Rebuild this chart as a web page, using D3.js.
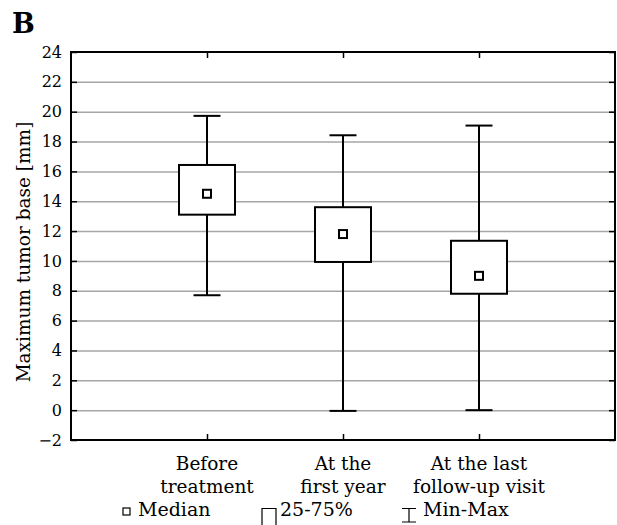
<!DOCTYPE html>
<html>
<head>
<meta charset="utf-8">
<script src="https://cdn.jsdelivr.net/npm/d3@7"></script>
<style>
  html, body { margin: 0; padding: 0; background: #fff; }
  svg { display: block; }
  text { font-family: "DejaVu Serif", serif; fill: #000; }
</style>
</head>
<body>
<svg id="chart" width="617" height="525"></svg>
<script>
// ---- data ----
const categories = ["Before treatment", "At the first year", "At the last follow-up visit"];
const categoryLines = [["Before", "treatment"], ["At the", "first year"], ["At the last", "follow-up visit"]];
const minValues = [7.7, -0.05, 0.0];
const q1Values = [13.1, 9.93, 7.8];
const medianValues = [14.5, 11.8, 9.0];
const q3Values = [16.43, 13.6, 11.35];
const maxValues = [19.72, 18.42, 19.07];
const yTicks = [-2, 0, 2, 4, 6, 8, 10, 12, 14, 16, 18, 20, 22, 24];
const gridTicks = [0, 2, 4, 6, 8, 10, 12, 14, 16, 18, 20, 22];
const yLabel = "Maximum tumor base [mm]";
const panelLabel = "B";
const legendLabels = ["Median", "25-75%", "Min-Max"];

// ---- layout ----
const svg = d3.select("#chart");
const pL = 71, pR = 615, pT = 52, pB = 440;
const boxW = 56, capW = 27, medSize = 8;

const x = d3.scalePoint().domain(categories).range([pL, pR]).padding(1);
const y = d3.scaleLinear().domain([-2, 24]).range([pB, pT]);

// gridlines
const grid = svg.append("g").attr("transform", `translate(${pL},0)`)
  .call(d3.axisLeft(y).tickValues(gridTicks).tickSize(-(pR - pL)).tickFormat(""));
grid.select(".domain").remove();
grid.selectAll(".tick line").attr("stroke", "#a6a6a6").attr("stroke-width", 1.5);

// left axis
const ax = svg.append("g").attr("transform", `translate(${pL},0)`)
  .call(d3.axisLeft(y).tickValues(yTicks).tickSize(-6).tickPadding(9)
    .tickFormat(d => d < 0 ? "\u2212" + Math.abs(d) : d));
ax.select(".domain").remove();
ax.selectAll(".tick line").attr("stroke", "#000").attr("stroke-width", 1.5);
ax.selectAll(".tick text").attr("font-family", "DejaVu Serif").attr("font-size", 16).attr("fill", "#000");

// right axis
const axR = svg.append("g").attr("transform", `translate(${pR},0)`)
  .call(d3.axisRight(y).tickValues(yTicks).tickSize(-6).tickFormat(""));
axR.select(".domain").remove();
axR.selectAll(".tick line").attr("stroke", "#000").attr("stroke-width", 1.5);

// top axis
const axT = svg.append("g").attr("transform", `translate(0,${pT})`)
  .call(d3.axisTop(x).tickSize(-6).tickFormat(""));
axT.select(".domain").remove();
axT.selectAll(".tick line").attr("stroke", "#000").attr("stroke-width", 1.5);

// bottom axis
const axB = svg.append("g").attr("transform", `translate(0,${pB})`)
  .call(d3.axisBottom(x).tickSize(-6).tickFormat(""));
axB.select(".domain").remove();
axB.selectAll(".tick line").attr("stroke", "#000").attr("stroke-width", 1.5);

// frame
svg.append("rect").attr("x", pL).attr("y", pT)
  .attr("width", pR - pL).attr("height", pB - pT)
  .attr("fill", "none").attr("stroke", "#000").attr("stroke-width", 2);

// boxes
const data = categories.map((c, i) => ({
  c, min: minValues[i], q1: q1Values[i], med: medianValues[i], q3: q3Values[i], max: maxValues[i]
}));
const g = svg.append("g");
const b = g.selectAll("g.box").data(data).join("g").attr("class", "box");
b.append("line").attr("x1", d => x(d.c)).attr("x2", d => x(d.c))
  .attr("y1", d => y(d.max)).attr("y2", d => y(d.min))
  .attr("stroke", "#000").attr("stroke-width", 2);
b.append("line").attr("x1", d => x(d.c) - capW / 2).attr("x2", d => x(d.c) + capW / 2)
  .attr("y1", d => y(d.max)).attr("y2", d => y(d.max))
  .attr("stroke", "#000").attr("stroke-width", 2);
b.append("line").attr("x1", d => x(d.c) - capW / 2).attr("x2", d => x(d.c) + capW / 2)
  .attr("y1", d => y(d.min)).attr("y2", d => y(d.min))
  .attr("stroke", "#000").attr("stroke-width", 2);
b.append("rect").attr("x", d => x(d.c) - boxW / 2).attr("y", d => y(d.q3))
  .attr("width", boxW).attr("height", d => y(d.q1) - y(d.q3))
  .attr("fill", "#fff").attr("stroke", "#000").attr("stroke-width", 2);
b.append("rect").attr("x", d => x(d.c) - medSize / 2).attr("y", d => y(d.med) - medSize / 2)
  .attr("width", medSize).attr("height", medSize)
  .attr("fill", "#fff").attr("stroke", "#000").attr("stroke-width", 2);

// category labels
categories.forEach((c, i) => {
  const t = svg.append("text").attr("text-anchor", "middle").attr("font-size", 18.5);
  categoryLines[i].forEach((ln, j) => {
    t.append("tspan").attr("x", x(c)).attr("y", 469.5 + j * 23).text(ln);
  });
});

// y label
svg.append("text").attr("transform", `translate(30,${(pT + pB) / 2 + 6}) rotate(-90)`)
  .attr("text-anchor", "middle").attr("font-size", 18.5).text(yLabel);

// panel label
svg.append("text").attr("x", 12).attr("y", 33).attr("font-size", 27)
  .attr("font-weight", "bold").text(panelLabel);

// legend
const ly = 516;
svg.append("rect").attr("x", 123).attr("y", 508).attr("width", 7).attr("height", 7)
  .attr("fill", "#fff").attr("stroke", "#000").attr("stroke-width", 1.2);
svg.append("text").attr("x", 138).attr("y", ly).attr("font-size", 19).text(legendLabels[0]);
svg.append("path").attr("d", "M262,526 V508.5 H276 V526")
  .attr("fill", "none").attr("stroke", "#000").attr("stroke-width", 1.2);
svg.append("text").attr("x", 280).attr("y", ly).attr("font-size", 19).text(legendLabels[1]);
svg.append("path").attr("d", "M402,508.5 H416 M409,508.5 V522 M402,522 H416")
  .attr("fill", "none").attr("stroke", "#000").attr("stroke-width", 1.2);
svg.append("text").attr("x", 423).attr("y", ly).attr("font-size", 19).text(legendLabels[2]);
</script>
</body>
</html>
